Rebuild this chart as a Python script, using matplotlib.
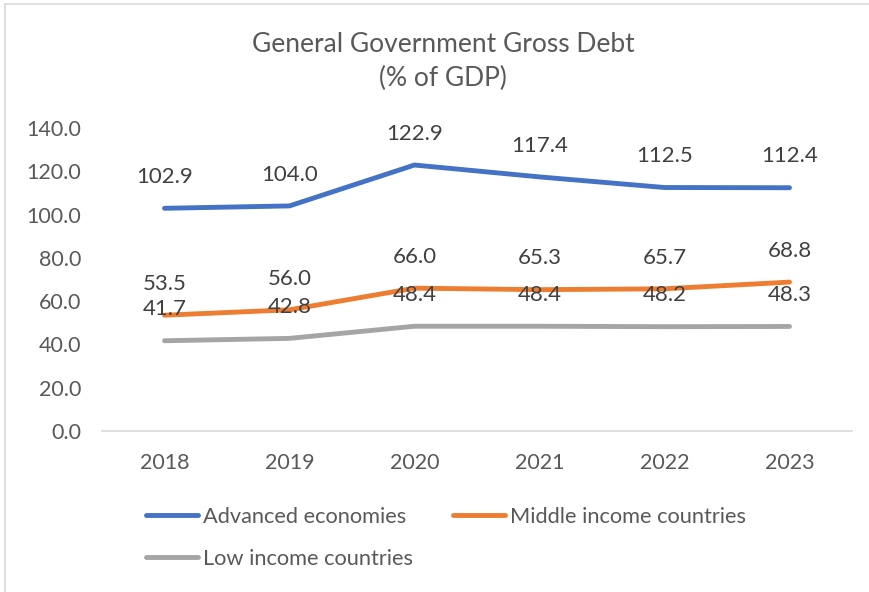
import matplotlib.pyplot as plt
from matplotlib.patches import Rectangle

years = ["2018", "2019", "2020", "2021", "2022", "2023"]
advanced = [102.9, 104.0, 122.9, 117.4, 112.5, 112.4]
middle = [53.5, 56.0, 66.0, 65.3, 65.7, 68.8]
low = [41.7, 42.8, 48.4, 48.4, 48.2, 48.3]

series = [
    ("Advanced economies", advanced, "#4472C4"),
    ("Middle income countries", middle, "#ED7D31"),
    ("Low income countries", low, "#A5A5A5"),
]

plt.rcParams['font.family'] = ['Lato', 'DejaVu Sans']
text_color = "#595959"
label_color = "#404040"

W, H = 870, 592
fig = plt.figure(figsize=(W / 100, H / 100), dpi=100)

# chart area border (light gray), running off the right and bottom edges
fig.patches.append(Rectangle((5 / W, -0.1), 1.1, 1 - 4 / H + 0.1,
                             transform=fig.transFigure, fill=False,
                             edgecolor="#d9d9d9", linewidth=1.2))

ax = fig.add_axes([102 / W, (H - 431) / H, 750 / W, (431 - 128) / H])
x = list(range(len(years)))

lines = {}
for name, vals, color in series:
    ln, = ax.plot(x, vals, color=color, linewidth=3.5, solid_capstyle="round",
                  solid_joinstyle="round", label=name)
    lines[name] = ln
    for xi, v in zip(x, vals):
        ax.annotate(f"{v:.1f}", (xi, v), xytext=(0, 22.5), textcoords="offset points",
                    ha="center", va="center", fontsize=16, color=label_color)

ax.set_xlim(-0.5, len(years) - 0.5)
ax.set_ylim(0, 140)
ax.set_yticks(range(0, 141, 20))
ax.set_yticklabels([f"{t:.1f}" for t in range(0, 141, 20)])
ax.set_xticks(x)
ax.set_xticklabels(years)
ax.tick_params(axis="both", length=0, labelsize=15.5, labelcolor=text_color)
ax.tick_params(axis="y", pad=15)
ax.tick_params(axis="x", pad=16)
for side in ["top", "right", "left"]:
    ax.spines[side].set_visible(False)
ax.spines["bottom"].set_color("#d9d9d9")
ax.spines["bottom"].set_linewidth(1.2)

fig.text(443 / W, 1 - 45 / H, "General Government Gross Debt", ha="center", va="center",
         fontsize=19, color=text_color)
fig.text(443 / W, 1 - 78 / H, "(% of GDP)", ha="center", va="center",
         fontsize=19, color=text_color)

order = ["Advanced economies", "Low income countries", "Middle income countries"]
fig.legend([lines[n] for n in order], order, ncol=2, frameon=False,
           loc="upper left", bbox_to_anchor=(135 / W, 1 - 496 / H), borderpad=0,
           fontsize=15.7, labelcolor=text_color, handlelength=2.4,
           handletextpad=0.2, columnspacing=1.85, labelspacing=1.0)

fig.savefig("out.png", dpi=100)
